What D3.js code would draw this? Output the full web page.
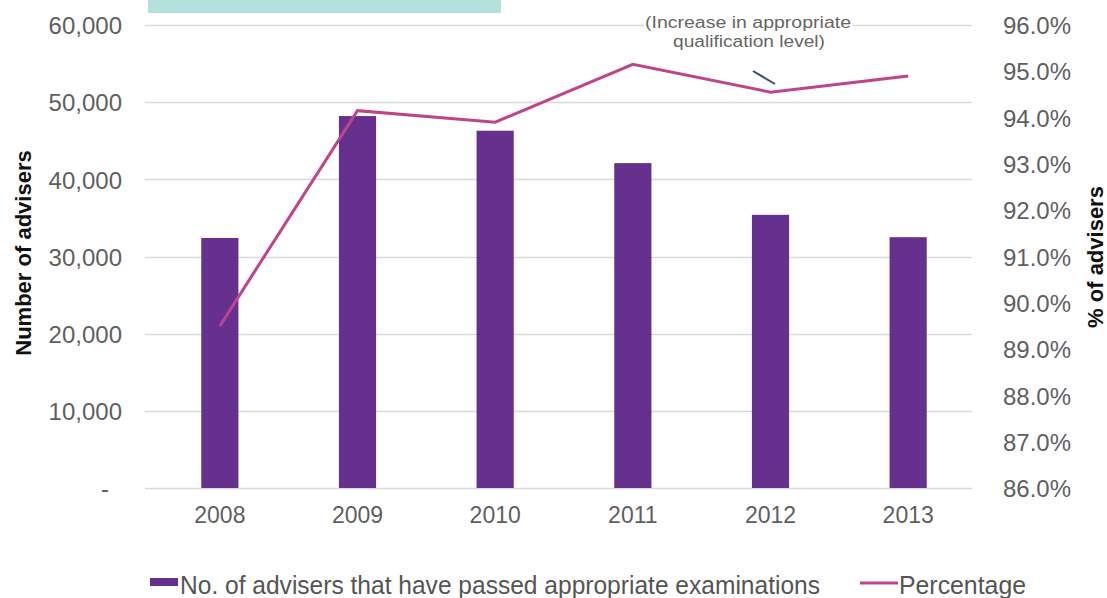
<!DOCTYPE html>
<html>
<head>
<meta charset="utf-8">
<script src="https://cdn.jsdelivr.net/npm/d3@7/dist/d3.min.js"></script>
<style>
  body { margin: 0; background: #fff; }
  svg { display: block; font-family: "Liberation Sans", Arial, sans-serif; }
</style>
</head>
<body>
<div id="corpo"></div>
<script>
// data
var anos = ["2008", "2009", "2010", "2011", "2012", "2013"];
var advisers = [32400, 48200, 46300, 42100, 35400, 32500];
var percentage = [89.5, 94.15, 93.9, 95.15, 94.55, 94.9];
var leftTicks = [0, 10000, 20000, 30000, 40000, 50000, 60000];
var rightTicks = [86, 87, 88, 89, 90, 91, 92, 93, 94, 95, 96];

var W = 1107, H = 598;
var barColor = "#66308f";
var lineColor = "#c0448c";
var tickColor = "#5f5f5f";

var svg = d3.select("#corpo").append("svg")
    .attr("width", W)
    .attr("height", H);

// scales
var x = d3.scaleBand().domain(anos).range([151, 977]).paddingInner(0.73).paddingOuter(0.365);
var y = d3.scaleLinear().domain([0, 60000]).range([488, 25]);
var y2 = d3.scaleLinear().domain([86, 96]).range([488, 25]);

// teal box at the top
svg.append("rect")
    .attr("x", 148).attr("y", 0)
    .attr("width", 353).attr("height", 13)
    .style("fill", "#b4e1dd");

// gridlines
svg.append("g").selectAll("line")
    .data(leftTicks)
    .enter().append("line")
    .attr("x1", 145).attr("x2", 972)
    .attr("y1", function(d) { return Math.round(y(d)) + 0.5; })
    .attr("y2", function(d) { return Math.round(y(d)) + 0.5; })
    .style("stroke", "#d9d9d9")
    .style("stroke-width", 1.3);

// left axis
var axisL = svg.append("g")
    .attr("transform", "translate(122,1)")
    .call(d3.axisLeft(y).tickValues(leftTicks).tickSize(0).tickPadding(0)
        .tickFormat(function(d) { return d === 0 ? "-" : d3.format(",")(d); }));
axisL.select(".domain").remove();
axisL.selectAll("text")
    .attr("x", function(d) { return d === 0 ? -13 : 0; })
    .style("font-family", "Liberation Sans, Arial, sans-serif")
    .style("font-size", "24px")
    .style("fill", tickColor);

// right axis
var axisR = svg.append("g")
    .attr("transform", "translate(1003,1)")
    .call(d3.axisRight(y2).tickValues(rightTicks).tickSize(0).tickPadding(0)
        .tickFormat(function(d) { return d3.format(".1f")(d) + "%"; }));
axisR.select(".domain").remove();
axisR.selectAll("text")
    .style("font-family", "Liberation Sans, Arial, sans-serif")
    .style("font-size", "24px")
    .style("fill", tickColor);

// x axis
var axisX = svg.append("g")
    .attr("transform", "translate(0,507)")
    .call(d3.axisBottom(x).tickSize(0).tickPadding(0));
axisX.select(".domain").remove();
axisX.selectAll("text")
    .attr("dy", "0.71em")
    .style("font-family", "Liberation Sans, Arial, sans-serif")
    .style("font-size", "23px")
    .style("fill", tickColor);

// bars
svg.append("g").selectAll("rect")
    .data(advisers)
    .enter().append("rect")
    .attr("x", function(d, i) { return x(anos[i]); })
    .attr("y", function(d) { return y(d); })
    .attr("width", x.bandwidth())
    .attr("height", function(d) { return y(0) - y(d); })
    .style("fill", barColor);

// percentage line
var valueline = d3.line()
    .x(function(d, i) { return x(anos[i]) + x.bandwidth() / 2; })
    .y(function(d) { return y2(d); });

svg.append("path")
    .datum(percentage)
    .attr("d", valueline)
    .style("fill", "none")
    .style("stroke", lineColor)
    .style("stroke-width", 3);

// annotation
var annoX = 748;
svg.append("rect")
    .attr("x", annoX - 104).attr("y", 14)
    .attr("width", 208).attr("height", 22)
    .style("fill", "#fff");
svg.append("text")
    .attr("x", annoX - 103).attr("y", 28)
    .attr("textLength", 206)
    .attr("lengthAdjust", "spacingAndGlyphs")
    .style("font-size", "16px")
    .style("fill", "#666")
    .text("(Increase in appropriate");
svg.append("text")
    .attr("x", annoX - 75).attr("y", 47)
    .attr("textLength", 152)
    .attr("lengthAdjust", "spacingAndGlyphs")
    .style("font-size", "16px")
    .style("fill", "#666")
    .text("qualification level)");
svg.append("line")
    .attr("x1", 753).attr("y1", 71)
    .attr("x2", 775).attr("y2", 84)
    .style("stroke", "#3b4a6b")
    .style("stroke-width", 2);

// axis titles
svg.append("text")
    .attr("transform", "translate(31,253) rotate(-90)")
    .attr("text-anchor", "middle")
    .style("font-size", "22px")
    .style("font-weight", "bold")
    .style("fill", "#111")
    .text("Number of advisers");

svg.append("text")
    .attr("transform", "translate(1103,257) rotate(-90)")
    .attr("text-anchor", "middle")
    .style("font-size", "22px")
    .style("font-weight", "bold")
    .style("fill", "#111")
    .text("% of advisers");

// legenda
var legendY = 585;
svg.append("rect")
    .attr("x", 150).attr("y", legendY - 7)
    .attr("width", 28).attr("height", 8)
    .style("fill", barColor);
svg.append("text")
    .attr("x", 180).attr("y", legendY + 9)
    .attr("textLength", 640)
    .attr("lengthAdjust", "spacingAndGlyphs")
    .style("font-size", "25px")
    .style("fill", "#555")
    .text("No. of advisers that have passed appropriate examinations");

svg.append("line")
    .attr("x1", 860).attr("x2", 898)
    .attr("y1", legendY - 2).attr("y2", legendY - 2)
    .style("stroke", lineColor)
    .style("stroke-width", 3);
svg.append("text")
    .attr("x", 899).attr("y", legendY + 9)
    .attr("textLength", 127)
    .attr("lengthAdjust", "spacingAndGlyphs")
    .style("font-size", "25px")
    .style("fill", "#555")
    .text("Percentage");
</script>
</body>
</html>
